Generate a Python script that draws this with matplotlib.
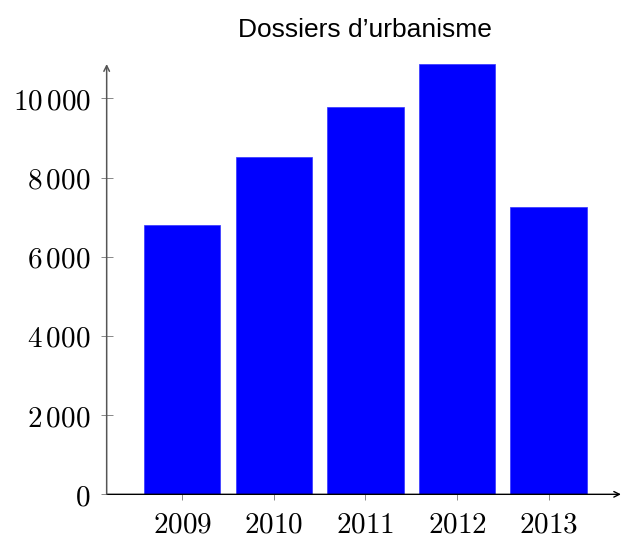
import numpy as np
import matplotlib
matplotlib.use('Agg')
import matplotlib.pyplot as plt

plt.rcParams['mathtext.fontset'] = 'cm'

# data
years = [2009, 2010, 2011, 2012, 2013]
dossiers = [6810, 8515, 9795, 10870, 7255]
yticks = [0, 2000, 4000, 6000, 8000, 10000]
title = 'Dossiers d\u2019urbanisme'


def fmt(v):
    s = '{:,}'.format(v).replace(',', r'\,')
    return '$' + s + '$'


fig = plt.figure(figsize=(6.22, 5.39), dpi=100)
ax = fig.add_axes([0.1715, 0.0829, 0.8268, 0.7983])

ax.bar(years, dossiers, width=0.835, color='#0000ff', edgecolor='#3333ff', linewidth=0.5, zorder=2)

ax.set_xlim(2008.176, 2013.79)
ax.set_ylim(0, max(dossiers))

ax.set_xticks(years)
ax.set_xticklabels(['$%d$' % y for y in years])
ax.set_yticks(yticks)
ax.set_yticklabels([fmt(v) for v in yticks])

ax.tick_params(axis='both', direction='inout', length=8, width=0.7, color='#888888', labelsize=21)
ax.tick_params(axis='x', pad=8)
ax.tick_params(axis='y', pad=7.5)

for s in ax.spines.values():
    s.set_visible(False)

# axis lines with arrow heads
ax.annotate('', xy=(1.0, 0), xytext=(0, 0), xycoords='axes fraction',
            arrowprops=dict(arrowstyle='->', color='black', lw=1.0, shrinkA=0, shrinkB=0,
                            mutation_scale=10), zorder=3)
ax.annotate('', xy=(0, 1.0), xytext=(0, 0), xycoords='axes fraction',
            arrowprops=dict(arrowstyle='->', color='#555555', lw=1.1, shrinkA=0, shrinkB=0,
                            mutation_scale=10), zorder=3)

fig.text(0.587, 0.944, title, ha='center', va='center', fontsize=19, family='Liberation Sans')

fig.savefig('out.png', dpi=100)
